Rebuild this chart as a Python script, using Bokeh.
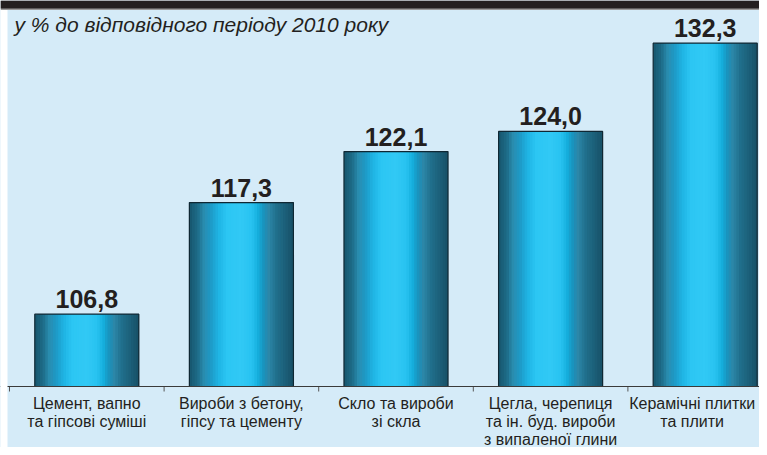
import numpy as np
from bokeh.plotting import figure
from bokeh.models import Range1d, Span, ColumnDataSource, BoxAnnotation
from bokeh.core.properties import value
from bokeh.embed import file_html
from bokeh.resources import INLINE

# ---- data ----
categories = [
    "Цемент, вапно\nта гіпсові суміші",
    "Вироби з бетону,\nгіпсу та цементу",
    "Скло та вироби\nзі скла",
    "Цегла, черепиця\nта ін. буд. вироби\nз випаленої глини",
    "Керамічні плитки\nта плити",
]
values = [106.8, 117.3, 122.1, 124.0, 132.3]
value_labels = ["106,8", "117,3", "122,1", "124,0", "132,3"]
subtitle = "у % до відповідного періоду 2010 року"
baseline = 100.0

# ---- style ----
BG = "#d5ebf8"
TXT = "#231f20"
BAR_W = 0.673
PX_X = 154.6     # px per category
PX_Y = 10.63     # px per percentage point
W, H = 759, 447
stops = [0.00, 0.08, 0.14, 0.20, 0.28, 0.36, 0.50, 0.60, 0.66, 0.72, 0.76, 0.84, 0.92, 1.00]
stop_cols = ["#17566d", "#1d6c88", "#2a8db0", "#1e98c4", "#1fb4e4", "#2cc6f3", "#31c9f5",
             "#28c2f0", "#15aedc", "#1a90ba", "#2c88a9", "#206e8b", "#1c6079", "#174f66"]

def hex2rgb(h):
    h = h.lstrip("#")
    return [int(h[i:i + 2], 16) for i in (0, 2, 4)]

rgb = np.array([hex2rgb(c) for c in stop_cols], dtype=float)
N = 40
xs = np.arange(len(values), dtype=float)
vals = np.array(values)

x_lo = -0.5 - 9 / PX_X
x_hi = x_lo + W / PX_X
y_hi = baseline + 386 / PX_Y
y_lo = baseline - (H - 386) / PX_Y

p = figure(width=W, height=H,
           x_range=Range1d(x_lo, x_hi), y_range=Range1d(y_lo, y_hi),
           output_backend="svg", toolbar_location=None,
           x_axis_location=None, y_axis_location=None,
           min_border_left=0, min_border_right=0, min_border_top=0, min_border_bottom=0)
p.background_fill_color = BG
p.border_fill_color = BG
p.outline_line_color = None
p.xgrid.visible = False
p.ygrid.visible = False

# gradient bars as overlapping stripes
sw = BAR_W / N
for k in range(N):
    f = (k + 0.5) / N
    col = [int(round(np.interp(f, stops, rgb[:, j]))) for j in range(3)]
    c = "#%02x%02x%02x" % tuple(col)
    left = xs - BAR_W / 2 + k * sw
    right = np.minimum(left + 2.2 * sw, xs + BAR_W / 2)
    p.quad(left=left, right=right, top=vals, bottom=baseline,
           fill_color=c, line_color=None)

# outline
p.vbar(x=xs, width=BAR_W, top=vals, bottom=baseline,
       fill_alpha=0, line_color="#0f2733", line_width=1.2)

# axis line and boundary ticks
p.add_layout(Span(location=baseline, dimension="width", line_color="#3a3a3a", line_width=1))
bounds = np.arange(-0.5, len(values), 1.0)
p.segment(x0=bounds, x1=bounds, y0=np.full(len(bounds), baseline),
          y1=np.full(len(bounds), baseline - 5 / PX_Y),
          line_color="#555555", line_width=1)

# value labels
src = ColumnDataSource(dict(x=xs, y=vals, t=value_labels))
p.text(x="x", y="y", text="t", source=src, text_align="center", text_baseline="bottom",
       y_offset=-6, text_font=value("Liberation Sans"), text_font_style="bold",
       text_font_size="25px", text_color=TXT)

# category labels (last one nudged left so it stays inside the canvas)
label_dx = [0] * (len(xs) - 1) + [-13]
csrc = ColumnDataSource(dict(x=xs, y=np.full(len(xs), baseline), t=categories, dx=label_dx))
p.text(x="x", y="y", text="t", source=csrc, text_align="center", text_baseline="top",
       x_offset="dx", y_offset=8, text_font=value("Liberation Sans"), text_font_size="16px",
       text_line_height=1.08, text_color=TXT)

# subtitle
p.text(x=[x_lo], y=[y_hi], text=[subtitle], text_align="left",
       text_baseline="top", x_offset=14, y_offset=12,
       text_font=value("Liberation Sans"), text_font_style="italic",
       text_font_size="21px", text_color=TXT)

# page framing: white left strip, dark band and grey rule at the top
p.add_layout(BoxAnnotation(left=x_lo, right=x_lo + 7 / PX_X, fill_color="white",
                           fill_alpha=1, line_color=None))
p.add_layout(BoxAnnotation(bottom=y_hi - 9.5 / PX_Y, fill_color="#9a9a9a",
                           fill_alpha=1, line_color=None))
p.add_layout(BoxAnnotation(bottom=y_hi - 8 / PX_Y, fill_color="#231f20",
                           fill_alpha=1, line_color=None))

open("out.html", "w").write(file_html(p, INLINE))
